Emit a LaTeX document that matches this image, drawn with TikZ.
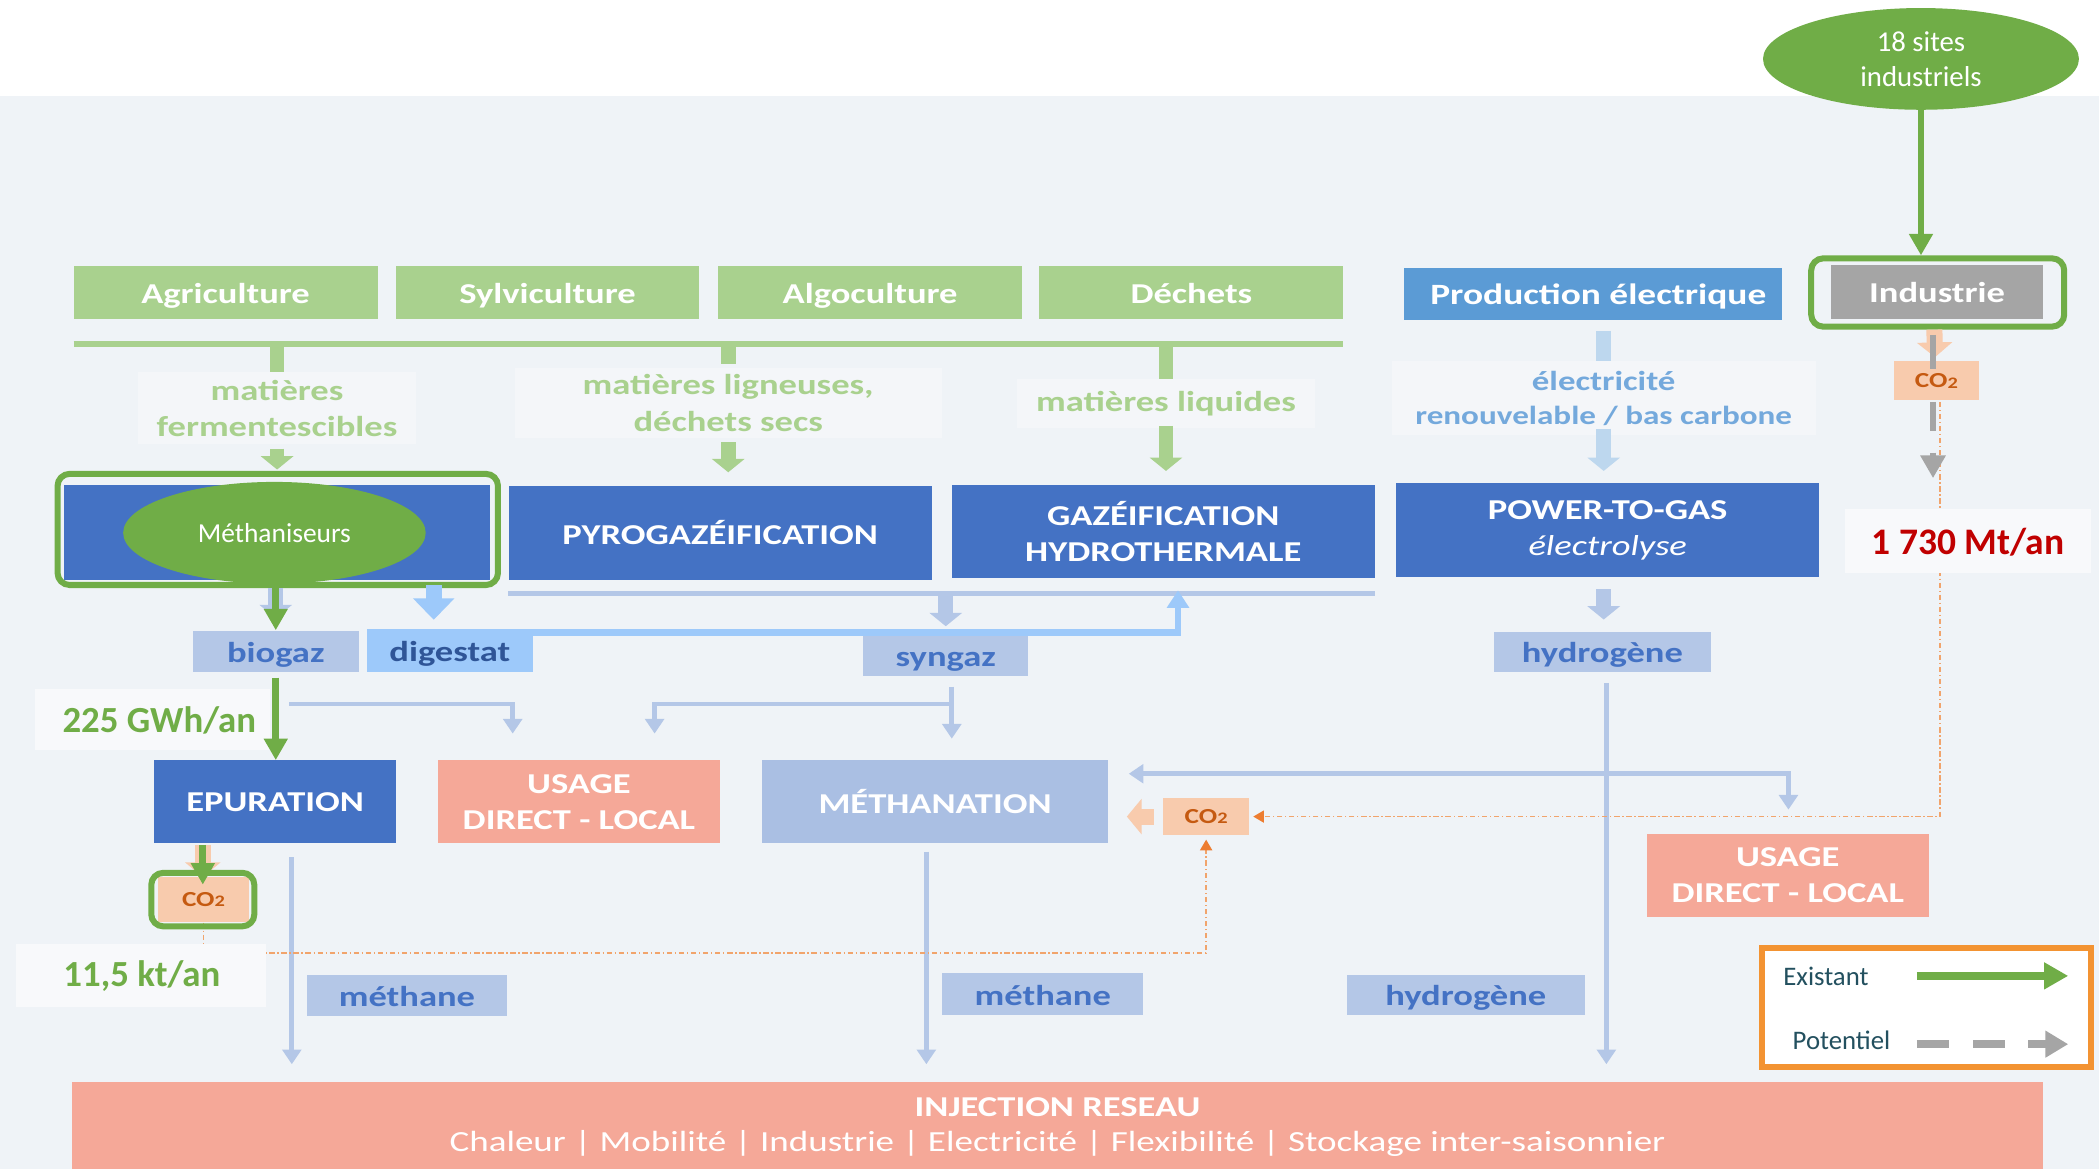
\documentclass[tikz,border=0pt]{standalone}
\usepackage{fontspec}
\setmainfont{Carlito}
\newfontfamily\widefam{Carlito}[FakeStretch=1.27]
\usetikzlibrary{arrows.meta,calc,shapes.geometric}

\definecolor{bgc}{HTML}{EFF3F7}
\definecolor{lblbgc}{HTML}{F4F6F9}
\definecolor{notebgc}{HTML}{F8F9FB}
\definecolor{lgreen}{HTML}{A9D18E}
\definecolor{dgreen}{HTML}{70AD47}
\definecolor{pblue}{HTML}{4472C4}
\definecolor{lblue}{HTML}{B4C7E7}
\definecolor{mblue}{HTML}{AABFE3}
\definecolor{pelec}{HTML}{5B9BD5}
\definecolor{elecblue}{HTML}{74A9DC}
\definecolor{elecarrow}{HTML}{BDD7EE}
\definecolor{digblue}{HTML}{9DC9FA}
\definecolor{digtext}{HTML}{2F5597}
\definecolor{grayc}{HTML}{A5A5A5}
\definecolor{salmon}{HTML}{F5A898}
\definecolor{co2fill}{HTML}{F8CBAD}
\definecolor{co2text}{HTML}{C55A11}
\definecolor{co2dot}{HTML}{F1A46C}
\definecolor{orangetip}{HTML}{ED7D31}
\definecolor{redc}{HTML}{C00000}
\definecolor{legtext}{HTML}{23505F}
\definecolor{legborder}{HTML}{F39332}

\newcommand\widebold[2]{\widefam\bfseries\fontsize{#1}{#2}\selectfont}
\newcommand\wideplain[2]{\widefam\fontsize{#1}{#2}\selectfont}
\newcommand\plainb[2]{\normalfont\bfseries\fontsize{#1}{#2}\selectfont}
\newcommand\plainr[2]{\normalfont\fontsize{#1}{#2}\selectfont}
\newcommand\cotwo{CO\raisebox{-0.5pt}{\fontsize{12}{12}\selectfont 2}}

\tikzset{
  boxbase/.style={rectangle, inner sep=0pt, align=center},
  oneline/.style={text height=16.5pt, text depth=0pt},
  srcbox/.style={boxbase, oneline, fill=lgreen, text=white, minimum width=227pt, minimum height=39pt, font=\widebold{21.5}{26}},
  procbox/.style={boxbase, fill=pblue, text=white, minimum width=316pt, minimum height=70pt, font=\widebold{21.5}{27}},
  gasbox/.style={boxbase, oneline, fill=lblue, text=pblue, minimum height=31pt, font=\widebold{21.5}{26}},
  usebox/.style={boxbase, fill=salmon, text=white, minimum width=211pt, minimum height=62pt, font=\widebold{21.5}{27}},
  co2box/.style={boxbase, fill=co2fill, text=co2text, font=\widebold{16}{18}},
  gframe/.style={rectangle, draw=dgreen, line width=4.5pt, rounded corners=9pt, inner sep=0pt},
  lblbg/.style={boxbase, fill=lblbgc, text=lgreen, font=\widebold{21.5}{27}},
  notebg/.style={boxbase, fill=notebgc},
  greenell/.style={ellipse, fill=dgreen, text=white, inner sep=0pt, align=center},
  % connectors
  lgstub/.style={draw=lgreen, line width=11pt},
  lgblock/.style={draw=lgreen, line width=11pt, -{Triangle[width=24pt,length=10pt]}},
  elstub/.style={draw=elecarrow, line width=11pt},
  elblock/.style={draw=elecarrow, line width=11pt, -{Triangle[width=24pt,length=10pt]}},
  lbblock/.style={draw=lblue, line width=11pt, -{Triangle[width=24pt,length=10pt]}},
  lbline/.style={draw=lblue, line width=3.5pt},
  lbarrow/.style={draw=lblue, line width=3.5pt, -{Triangle[width=14pt,length=11pt]}},
  digarrow/.style={draw=digblue, line width=5pt, -{Triangle[width=16pt,length=13pt]}},
  digblock/.style={draw=digblue, line width=12pt, -{Triangle[width=30pt,length=16pt]}},
  grarrow/.style={draw=dgreen, line width=5pt, -{Triangle[width=17pt,length=16pt]}},
  coblock/.style={draw=co2fill, line width=12pt, -{Triangle[width=26pt,length=11pt]}},
  codot/.style={draw=co2dot, line width=1.3pt, dash pattern=on 4pt off 2pt on 1pt off 2pt, -{Triangle[width=9pt,length=8pt,color=orangetip]}},
  graybar/.style={draw=grayc, line width=5pt},
  grayarrow/.style={draw=grayc, line width=5pt, -{Triangle[width=18pt,length=17pt]}},
}

\begin{document}
\begin{tikzpicture}[x=1pt,y=-1pt]
\useasboundingbox (0,0) rectangle (1568,873);
\fill[white] (0,0) rectangle (1568,72);
\fill[bgc] (0,72) rectangle (1568,873);

% ---------- sources ----------
\node[srcbox] (agri) at (168.5,218.5) {Agriculture};
\node[srcbox] (sylv) at (409,218.5) {Sylviculture};
\node[srcbox] (algo) at (650,218.5) {Algoculture};
\node[srcbox] (dech) at (890,218.5) {Déchets};
\node[boxbase, oneline, fill=pelec, text=white, minimum width=282pt, minimum height=39pt, font=\widebold{22}{26}] (prod) at (1190,219.5) {\hspace*{8pt}Production électrique};
\node[boxbase, oneline, fill=grayc, text=white, minimum width=158pt, minimum height=40pt, font=\widebold{21.5}{26}] (ind) at (1447,218) {Industrie};
\node[gframe, minimum width=189pt, minimum height=51pt] (indframe) at (1447.5,218.5) {};
\node[greenell, minimum width=236pt, minimum height=76pt, font=\plainr{21.5}{26}] (sites) at (1435,44) {18 sites\\industriels};

% ---------- feedstock labels ----------
\node[lblbg, minimum width=208pt, minimum height=54pt] (ferm) at (207,305) {matières\\fermentescibles};
\node[lblbg, minimum width=319pt, minimum height=52pt] (lign) at (544,301) {matières ligneuses,\\déchets secs};
\node[lblbg, minimum width=222pt, minimum height=37pt] (liq) at (871,301.5) {matières liquides};
\node[lblbg, text=elecblue, minimum width=317pt, minimum height=55pt, font=\widebold{19.5}{25}] (elec) at (1198,297.5) {{\fontsize{20.5}{25}\selectfont électricité}\\renouvelable / bas carbone};

% ---------- conversion processes ----------
\node[procbox, minimum width=318pt, minimum height=71pt] (meth) at (207,397.5) {};
\node[gframe, minimum width=329pt, minimum height=83pt] (methframe) at (207.5,395.5) {};
\node[greenell, minimum width=226pt, minimum height=76pt, font=\plainr{20.5}{24}] (methell) at (205,398) {Méthaniseurs};
\node[procbox] (pyro) at (538,398) {PYROGAZÉIFICATION};
\node[procbox] (gaz) at (869,397) {GAZÉIFICATION\\HYDROTHERMALE};
\node[procbox] (ptg) at (1201,396) {POWER-TO-GAS\\{\mdseries\itshape électrolyse}};

% ---------- products ----------
\node[gasbox, minimum width=124pt] (biogaz) at (206,486.5) {biogaz};
\node[gasbox, fill=digblue, text=digtext, minimum width=124pt, minimum height=32pt] (digestat) at (336,486) {digestat};
\node[gasbox, minimum width=123pt, minimum height=30pt] (syngaz) at (706.5,490) {syngaz};
\node[gasbox, minimum width=162pt, minimum height=30pt] (hydro) at (1197,487) {hydrogène};

% ---------- second stage ----------
\node[procbox, minimum width=181pt, minimum height=62pt] (epur) at (205.5,599) {EPURATION};
\node[usebox] (usage) at (432.5,599) {USAGE\\DIRECT - LOCAL};
\node[procbox, fill=mblue, minimum width=259pt, minimum height=62pt] (methan) at (698.5,599) {MÉTHANATION};
\node[usebox] (usageb) at (1335.5,654) {USAGE\\DIRECT - LOCAL};
\node[co2box, minimum width=64pt, minimum height=28pt] (co2m) at (901,610) {\cotwo};
\node[co2box, minimum width=63pt, minimum height=29pt] (co2i) at (1446.5,284.5) {\cotwo};
\node[co2box, minimum width=68pt, minimum height=34pt] (co2e) at (152,672) {\cotwo};

\node[gasbox, minimum width=150pt] (methane) at (304,743.5) {méthane};
\node[gasbox, minimum width=150pt] (methaneb) at (779,742.5) {méthane};
\node[gasbox, minimum width=178pt, minimum height=30pt] (hydrob) at (1095,743) {hydrogène};

% ---------- grid injection ----------
\node[boxbase, fill=salmon, minimum width=1472pt, minimum height=70pt, anchor=north] (inj) at (790,808) {};
\node[text=white, font=\widebold{21.5}{24}, inner sep=0pt] (injt) at (790,827) {INJECTION RESEAU};
\node[text=white, font=\wideplain{21.8}{24}, inner sep=0pt] (injs) at (790,854) {Chaleur | Mobilité | Industrie | Electricité | Flexibilité | Stockage inter-saisonnier};

% ---------- feedstock connectors ----------
\coordinate (barL) at (55,257);
\coordinate (barR) at (1003,257);
\draw[draw=lgreen, line width=4.5pt] (barL) -- (barR);
\draw[lgstub] (ferm.north |- barL) -- (ferm.north);
\draw[lgstub] (lign.north |- barL) -- ($(lign.north)+(0,-3)$);
\draw[lgstub] (liq.north |- barL) -- (liq.north);
\draw[lgblock] ($(ferm.south)+(0,3)$) -- ($(ferm.south |- methframe.north)+(0,-1)$);
\draw[lgblock] ($(lign.south)+(0,3)$) -- ($(lign.south |- pyro.north)+(0,-10)$);
\draw[lgblock] ($(liq.south)+(0,-2)$) -- ($(liq.south |- gaz.north)+(0,-10)$);
\draw[elstub] ($(elec.north |- prod.south)+(0,8)$) -- (elec.north);
\draw[elblock] ($(elec.south)+(0,-5)$) -- ($(elec.south |- ptg.north)+(0,-9)$);

% ---------- process outputs ----------
\draw[lbline] ($(pyro.south west)+(0,10)$) -- ($(gaz.south east)+(0,11)$);
\draw[lbblock] ($(syngaz.north)+(0,-30)$) -- ($(syngaz.north)+(0,-7)$);
\draw[lbblock] ($(ptg.south)+(-3,9)$) -- ($(hydro.north)+(1,-9)$);
\draw[lbblock] (biogaz.north |- methframe.south) -- ($(biogaz.north)+(0,-9)$);
\coordinate (digup) at (880,441);
\draw[digarrow] ($(digestat.north east)+(-1,2.5)$) -| (digup);
\coordinate (digout) at (324,437);
\coordinate (digin) at (324,463);
\draw[digblock] (digout) -- (digin);
\draw[grarrow] (biogaz.north |- methframe.south) -- (biogaz.north);

% ---------- gas routes ----------
\coordinate (bgsplit) at (216,526);
\coordinate (bguse) at (383,548);
\draw[lbarrow] (bgsplit) -| (bguse);
\coordinate (sgtop) at (711,513);
\coordinate (sgsplit) at (711,526);
\coordinate (sguse) at (489,548);
\draw[lbarrow] (sgtop) -- ($(sgtop |- methan.north)+(0,-16)$);
\draw[lbarrow] (sgsplit) -| (sguse);

\draw[lbarrow] ($(epur.south)+(12.5,10)$) -- ($(epur.south |- inj.north)+(12.5,-13)$);
\draw[lbarrow] ($(methan.south)+(-6.5,6)$) -- ($(methan.south |- inj.north)+(-6.5,-13)$);
\draw[lbarrow] ($(hydro.south)+(3,8)$) -- ($(hydro.south |- inj.north)+(3,-13)$);
\draw[lbline, {Triangle[width=14pt,length=11pt]}-{Triangle[width=14pt,length=11pt]}] ($(methan.east)+(15,-21)$) -| ($(usageb.north)+(0.5,-18)$);

% ---------- CO2 routes ----------
\draw[coblock] ($(ind.south)+(-2,8)$) -- ($(co2i.north)+(-1,-3)$);
\draw[codot] ($(co2i.south)+(2.5,1)$) |- ($(co2m.east)+(3,0)$);
\draw[graybar] ($(ind.south)+(-3,12)$) -- ($(co2i.north)+(-2.5,6)$);
\draw[graybar] ($(co2i.south)+(-2.5,1)$) -- ($(co2i.south)+(-2.5,23)$);
\draw[grayarrow] ($(co2i.south)+(-2.5,39)$) -- ($(co2i.south)+(-2.5,58)$);
\draw[coblock] ($(co2m.west)+(-7,0)$) -- ($(co2m.west)+(-27,0)$);
\coordinate (dotlow) at (0,712);
\draw[codot] (co2e.south) -- (co2e.south |- dotlow) -| ($(co2m.south)+(0,3)$);
\draw[coblock] ($(epur.south)+(-54,1)$) -- ($(epur.south)+(-54,25)$);
\draw[grarrow] ($(epur.south)+(-54,1)$) -- ($(co2e.north)+(-0.5,6)$);
\node[gframe, minimum width=77pt, minimum height=40pt] (co2eframe) at (151.5,672) {};

% ---------- figures ----------
\node[notebg, minimum width=176pt, minimum height=45pt] (gwhbg) at (114,537.5) {};
\node[text=dgreen, font=\plainb{27.5}{30}, inner sep=0pt] (gwh) at (119,538) {225 GWh/an};
\draw[grarrow] ($(biogaz.south)+(0,4)$) -- (biogaz.south |- epur.north);
\node[notebg, minimum width=187pt, minimum height=47pt] (ktbg) at (105.5,728.5) {};
\node[text=dgreen, font=\plainb{27.5}{30}, inner sep=0pt] (kt) at (106,729) {11,5 kt/an};
\node[notebg, minimum width=184pt, minimum height=48pt] (mtbg) at (1470,404) {};
\node[text=redc, font=\plainb{28}{30}, inner sep=0pt] (mt) at (1470,405) {1 730 Mt/an};
\draw[grarrow] (sites.south) -- (sites.south |- indframe.north);

% ---------- legend ----------
\node[boxbase, fill=white, draw=legborder, line width=4.5pt, minimum width=246pt, minimum height=89pt] (legend) at (1439,752.5) {};
\node[anchor=west, text=legtext, font=\plainr{20}{24}, inner sep=0pt] (lgex) at (1332,729) {Existant};
\node[anchor=west, text=legtext, font=\plainr{20}{24}, inner sep=0pt] (lgpo) at (1339,777) {Potentiel};
\coordinate (exA) at (1432,729);
\coordinate (exB) at (1545,729);
\draw[draw=dgreen, line width=6.5pt, -{Triangle[width=19pt,length=18pt]}] (exA) -- (exB);
\coordinate (poA) at (1432,780);
\coordinate (poB) at (1456,780);
\coordinate (poC) at (1474,780);
\coordinate (poD) at (1498,780);
\coordinate (poE) at (1515,780);
\coordinate (poF) at (1545,780);
\draw[draw=grayc, line width=6pt] (poA) -- (poB);
\draw[draw=grayc, line width=6pt] (poC) -- (poD);
\draw[draw=grayc, line width=6pt, -{Triangle[width=19pt,length=17pt]}] (poE) -- (poF);
\end{tikzpicture}
\end{document}
